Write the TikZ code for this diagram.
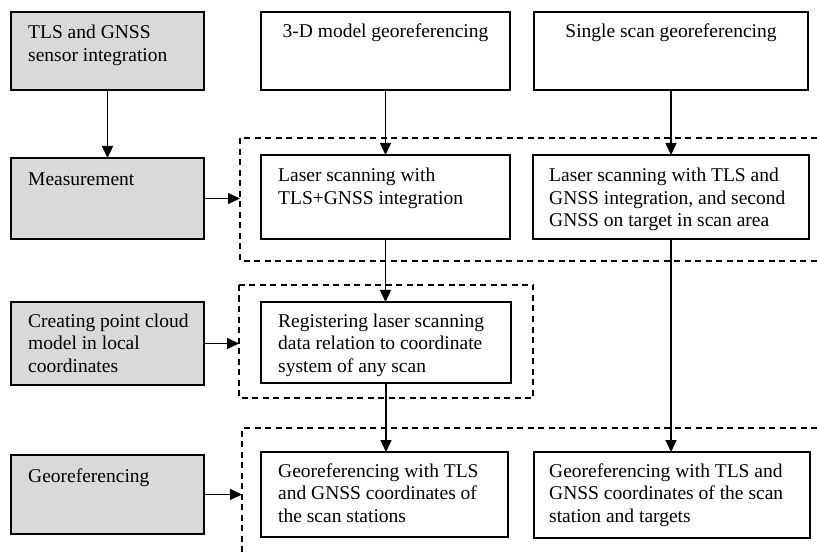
\documentclass[tikz,border=0pt]{standalone}
\usepackage{fontspec}
\setmainfont{Liberation Serif}
\usetikzlibrary{arrows.meta}
\definecolor{boxgray}{RGB}{217,217,217}
\newcommand{\tx}[1]{\parbox[t]{300pt}{\raggedright #1}}
\begin{document}
\begin{tikzpicture}[x=1pt,y=-1pt,
  box/.style={draw=black, line width=1.4pt, fill=white, inner sep=0pt, outer sep=0pt},
  graybox/.style={box, fill=boxgray},
  txt/.style={inner sep=0pt, anchor=base west, font=\fontsize{19.5}{22.5}\selectfont},
  ctxt/.style={inner sep=0pt, anchor=base, font=\fontsize{19.5}{22.5}\selectfont},
  arr/.style={line width=1.4pt, -{Triangle[length=12pt,width=11pt]}},
  dash box/.style={line width=1.3pt, dash pattern=on 6pt off 4.5pt}
]
\useasboundingbox[fill=white] (0,0) rectangle (817,556);

% dashed regions
\draw[dash box] (817,138) -- (240,138) -- (240,261) -- (817,261);
\draw[dash box] (239,285) rectangle (533,398);
\draw[dash box] (817,428) -- (242,428) -- (242,556);

% left column (gray)
\node[graybox, minimum width=193pt, minimum height=78pt] (b1) at (107.5,51) {};
\node[txt] (t1) at (28,39) {\tx{TLS and GNSS\\sensor integration}};
\node[graybox, minimum width=193pt, minimum height=81pt] (meas) at (107.5,198.5) {};
\node[txt] (tmeas) at (28,186) {\tx{Measurement}};
\node[graybox, minimum width=193pt, minimum height=83pt] (create) at (107.5,343.5) {};
\node[txt] (tcreate) at (28,327) {\tx{Creating point cloud\\model in local\\coordinates}};
\node[graybox, minimum width=193pt, minimum height=79pt] (geoL) at (107.5,494.5) {};
\node[txt] (tgeoL) at (28,482) {\tx{Georeferencing}};

% top row
\node[box, minimum width=249pt, minimum height=78pt] (top2) at (385.5,51) {};
\node[ctxt] (ttop2) at (385.5,38) {3-D model georeferencing};
\node[box, minimum width=274pt, minimum height=78pt] (top3) at (671,51) {};
\node[ctxt] (ttop3) at (671,38) {Single scan georeferencing};

% measurement row
\node[box, minimum width=249pt, minimum height=84pt] (las2) at (385.5,197) {};
\node[txt] (tlas2) at (278,182) {\tx{Laser scanning with\\TLS+GNSS integration}};
\node[box, minimum width=276pt, minimum height=84pt] (las3) at (671,197) {};
\node[txt] (tlas3) at (549,182) {\tx{Laser scanning with TLS and\\GNSS integration, and second\\GNSS on target in scan area}};

% registration
\node[box, minimum width=250pt, minimum height=81pt] (reg) at (386,342.5) {};
\node[txt] (treg) at (278,327) {\tx{Registering laser scanning\\data relation to coordinate\\system of any scan}};

% georeferencing row
\node[box, minimum width=247pt, minimum height=85pt] (geo2) at (384.5,494.5) {};
\node[txt] (tgeo2) at (278,477) {\tx{Georeferencing with TLS\\and GNSS coordinates of\\the scan stations}};
\node[box, minimum width=276pt, minimum height=86pt] (geo3) at (672,495) {};
\node[txt] (tgeo3) at (549,477) {\tx{Georeferencing with TLS and\\GNSS coordinates of the scan\\station and targets}};

% free ends on dashed frames
\coordinate (d1) at (240,198.5);
\coordinate (d2) at (239,343.5);
\coordinate (d3) at (242,494.5);

% connectors
\draw[arr] (b1.south) -- (meas.north);
\draw[arr] (meas.east) -- (d1);
\draw[arr] (create.east) -- (d2);
\draw[arr] (geoL.east) -- (d3);
\draw[arr] (top2.south) -- (top2.south |- las2.north);
\draw[arr] (las2.south) -- (las2.south |- reg.north);
\draw[arr] (reg.south) -- (reg.south |- geo2.north);
\draw[arr] (top3.south) -- (top3.south |- las3.north);
\draw[arr] (las3.south) -- (las3.south |- geo3.north);
\end{tikzpicture}
\end{document}
